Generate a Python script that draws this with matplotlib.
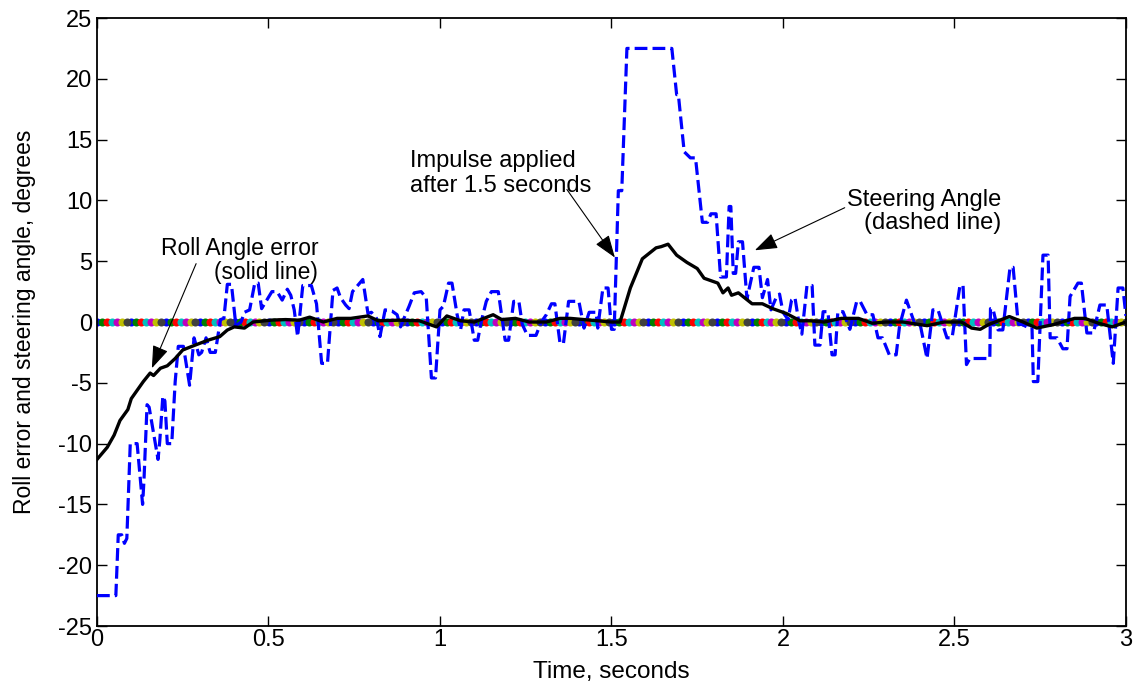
import numpy as np
import matplotlib
matplotlib.use('Agg')
import matplotlib.pyplot as plt

plt.rcParams['font.family'] = ['Liberation Sans', 'DejaVu Sans']
plt.rcParams['axes.unicode_minus'] = False

# steering angle (dashed)
steer_t = [0.00, 0.055, 0.062, 0.072, 0.080, 0.087, 0.097, 0.117, 0.133, 0.137, 0.146, 0.152,
           0.167, 0.178, 0.183, 0.192, 0.198, 0.205, 0.218, 0.228, 0.237, 0.252, 0.270, 0.283,
           0.297, 0.305, 0.318, 0.330, 0.345, 0.360, 0.370, 0.380, 0.392, 0.405, 0.420, 0.430,
           0.445, 0.460, 0.470, 0.480, 0.495, 0.510, 0.525, 0.540, 0.555, 0.565, 0.575, 0.585,
           0.600, 0.625, 0.640, 0.655, 0.672, 0.688, 0.700, 0.710, 0.725, 0.735, 0.745, 0.760,
           0.775, 0.790, 0.800, 0.815, 0.825, 0.840, 0.860, 0.875, 0.885, 0.895, 0.910, 0.925,
           0.945, 0.960, 0.975, 0.987, 1.000, 1.010, 1.025, 1.035, 1.050, 1.060, 1.070, 1.085,
           1.100, 1.110, 1.120, 1.135, 1.150, 1.170, 1.190, 1.200, 1.215, 1.230, 1.240, 1.255,
           1.280, 1.295, 1.310, 1.325, 1.335, 1.350, 1.360, 1.375, 1.405, 1.420, 1.435, 1.455,
           1.460, 1.475, 1.490, 1.500, 1.508, 1.520, 1.530, 1.545, 1.676, 1.690, 1.695, 1.712,
           1.730, 1.745, 1.765, 1.780, 1.790, 1.805, 1.818, 1.835, 1.843, 1.848, 1.855, 1.862,
           1.870, 1.882, 1.895, 1.915, 1.930, 1.940, 1.955, 1.965, 1.980, 1.990, 2.000, 2.015,
           2.025, 2.035, 2.045, 2.055, 2.070, 2.085, 2.093, 2.108, 2.117, 2.131, 2.143, 2.152,
           2.160, 2.175, 2.195, 2.215, 2.225, 2.245, 2.262, 2.277, 2.290, 2.310, 2.330, 2.340,
           2.360, 2.385, 2.400, 2.420, 2.437, 2.452, 2.478, 2.493, 2.516, 2.525, 2.535, 2.545,
           2.565, 2.603, 2.605, 2.612, 2.627, 2.641, 2.662, 2.671, 2.686, 2.697, 2.711, 2.726,
           2.730, 2.743, 2.758, 2.773, 2.779, 2.799, 2.816, 2.828, 2.837, 2.860, 2.870, 2.886,
           2.895, 2.905, 2.924, 2.944, 2.963, 2.977, 2.991, 3.000]
steer_v = [-22.5, -22.5, -17.5, -17.5, -18.2, -17.8, -10.0, -10.0, -15.0, -13.0, -6.8, -7.0,
           -9.5, -11.3, -9.8, -6.1, -6.5, -10.0, -10.0, -4.9, -2.0, -2.0, -5.2, -1.3,
           -2.7, -2.5, -1.3, -2.5, -2.5, 0.2, 0.3, 3.1, 3.1, -0.3, 0.0, 0.8,
           1.0, 3.2, 3.2, 1.1, 1.8, 2.5, 2.5, 1.8, 2.7, 2.2, 1.0, -1.2,
           3.0, 3.0, 1.5, -3.4, -3.4, 2.6, 2.8, 2.0, 1.4, 1.1, 2.5, 3.0,
           3.5, 0.7, 0.8, 0.3, -1.2, 1.0, 0.9, 0.6, -0.4, 0.3, 1.3, 2.4,
           2.5, 2.0, -4.6, -4.6, 1.0, 1.3, 3.2, 3.2, 0.6, -0.65, 1.0, 1.0,
           -1.5, -1.5, 0.0, 1.7, 2.5, 2.5, -1.5, -1.5, 1.7, 1.7, -0.2, -1.1,
           -1.1, 0.0, 0.6, 1.5, 1.5, -1.75, -1.75, 1.7, 1.7, -0.5, 0.8, 0.8,
           -0.5, 2.8, 2.8, -0.6, -0.6, 10.8, 10.8, 22.5, 22.5, 18.7, 18.7, 14.0,
           13.5, 13.5, 8.2, 8.2, 8.9, 8.9, 3.7, 3.7, 9.5, 9.5, 4.0, 4.0,
           6.6, 6.6, 1.9, 4.5, 4.5, 2.0, 3.5, 1.0, 2.0, 2.3, 0.8, 0.2,
           1.8, 2.0, 0.2, -1.0, 3.0, 3.0, -1.9, -1.9, 0.85, 0.85, -2.7, -2.7,
           0.85, 0.85, -0.6, 1.7, 1.7, 0.6, 0.6, -1.3, -1.3, -2.7, -2.7, -0.3,
           1.8, -0.2, -0.2, -3.0, 1.0, 1.0, -1.3, -1.3, 3.0, 3.0, -3.5, -3.0,
           -3.0, -3.0, 1.1, 1.1, -0.65, -0.65, 4.5, 4.5, -0.2, -0.2, -0.4, -0.4,
           -4.9, -4.9, 5.5, 5.5, -1.3, -1.3, -2.2, -2.2, 2.1, 3.2, 3.2, -0.9,
           -0.9, -0.9, 1.4, 1.4, -3.4, 2.8, 2.8, 0.5]

# roll angle error (solid)
roll_t = [0.00, 0.03, 0.05, 0.067, 0.09, 0.10, 0.115, 0.135, 0.155, 0.165, 0.185, 0.205,
          0.228, 0.25, 0.277, 0.30, 0.323, 0.358, 0.38, 0.40, 0.43, 0.455, 0.51, 0.55,
          0.59, 0.62, 0.66, 0.70, 0.74, 0.79, 0.82, 0.88, 0.94, 0.99, 1.02, 1.06,
          1.10, 1.155, 1.18, 1.22, 1.26, 1.31, 1.35, 1.38, 1.42, 1.46, 1.50, 1.525,
          1.555, 1.59, 1.63, 1.645, 1.665, 1.69, 1.72, 1.75, 1.77, 1.81, 1.825, 1.84,
          1.85, 1.87, 1.91, 1.94, 1.97, 2.01, 2.05, 2.08, 2.12, 2.17, 2.22, 2.26,
          2.30, 2.35, 2.42, 2.47, 2.52, 2.55, 2.575, 2.60, 2.66, 2.70, 2.74, 2.79,
          2.85, 2.88, 2.92, 2.96, 3.00]
roll_v = [-11.3, -10.3, -9.3, -8.1, -7.2, -6.3, -5.7, -4.9, -4.2, -4.4, -3.8, -3.6,
          -3.0, -2.3, -2.0, -1.75, -1.5, -1.2, -0.66, -0.4, -0.5, 0.0, 0.16, 0.2,
          0.15, 0.4, 0.0, 0.3, 0.3, 0.5, 0.1, 0.15, 0.1, -0.4, 0.5, 0.1,
          0.0, 0.6, 0.2, 0.3, 0.0, 0.0, 0.3, 0.3, 0.2, 0.1, 0.0, 0.0,
          2.8, 5.2, 6.1, 6.2, 6.4, 5.5, 4.9, 4.4, 3.6, 3.2, 2.4, 2.8,
          2.2, 2.4, 1.5, 1.5, 1.1, 0.7, 0.1, 0.1, 0.0, 0.3, 0.3, -0.1,
          0.0, 0.0, -0.3, 0.0, 0.0, -0.5, -0.6, -0.2, 0.45, 0.0, -0.5, -0.2,
          0.3, 0.3, -0.1, -0.4, 0.0]

# reference line at zero, drawn as MATLAB-coloured dots
zero_t = np.linspace(0, 3, 210)
zero_colors = ['#0000ff', '#008000', '#ff0000', '#00bfbf', '#bf00bf', '#bfbf00', '#404040']

fig = plt.figure(figsize=(11.37, 6.88), dpi=100)
ax = fig.add_axes([0.0853, 0.0901, 0.905, 0.8837])

for i, c in enumerate(zero_colors):
    ax.plot(zero_t[i::7], np.zeros_like(zero_t[i::7]), 'o', color=c, ms=5.8, mec='none', zorder=2)

ax.plot(steer_t, steer_v, color='#0000ff', lw=2.3, dashes=(4, 1.6), zorder=3)
ax.plot(roll_t, roll_v, color='black', lw=2.4, zorder=4)

fs = 17
arrow = dict(arrowstyle='-|>,head_length=1.4,head_width=0.5', color='black', lw=0.8, shrinkA=0, shrinkB=0)
ax.text(0.645, 3.1, 'Roll Angle error\n(solid line)', ha='right', va='bottom', fontsize=16.5,
        multialignment='right', linespacing=1.1)
ax.annotate('', xy=(0.16, -3.8), xytext=(0.289, 4.8), arrowprops=arrow)

ax.text(0.913, 10.3, 'Impulse applied\nafter 1.5 seconds', ha='left', va='bottom', fontsize=fs,
        multialignment='left', linespacing=1.15)
ax.annotate('', xy=(1.51, 5.3), xytext=(1.37, 10.9), arrowprops=arrow)

ax.text(2.636, 7.2, 'Steering Angle\n(dashed line)', ha='right', va='bottom', fontsize=fs,
        multialignment='right', linespacing=1.1)
ax.annotate('', xy=(1.918, 5.9), xytext=(2.18, 9.4), arrowprops=arrow)

ax.set_xlim(0, 3)
ax.set_ylim(-25, 25)
ax.set_xticks([0, 0.5, 1, 1.5, 2, 2.5, 3])
ax.set_xticklabels(['0', '0.5', '1', '1.5', '2', '2.5', '3'])
ax.set_yticks(np.arange(-25, 26, 5))
ax.tick_params(direction='in', top=True, right=True, length=7, width=1, labelsize=fs)
ax.tick_params(axis='x', pad=2)
for s in ax.spines.values():
    s.set_linewidth(1.3)
ax.set_xlabel('Time, seconds', fontsize=17.5, labelpad=7)
ax.set_ylabel('Roll error and steering angle, degrees', fontsize=16.5, labelpad=16)

fig.savefig('out.png', dpi=100)
